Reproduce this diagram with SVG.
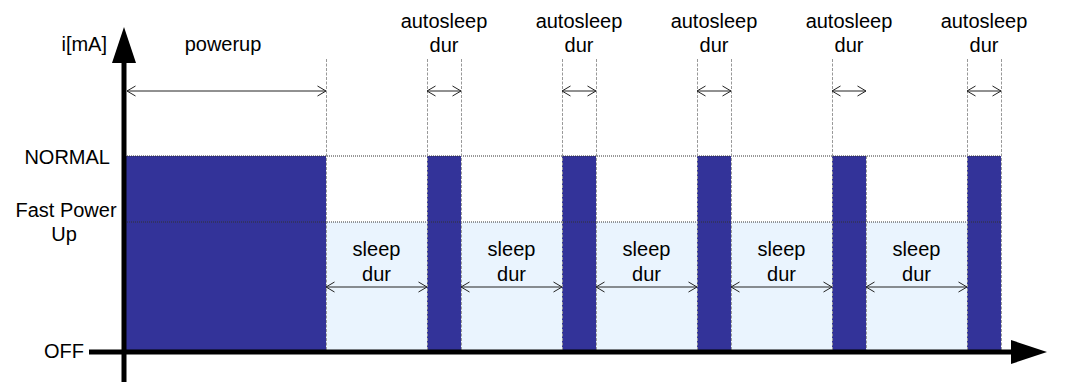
<svg xmlns="http://www.w3.org/2000/svg" width="1078" height="382" viewBox="0 0 1078 382">
<style>
text{font-family:"Liberation Sans",Arial,sans-serif;font-size:20px;fill:#000}
.c{text-anchor:middle}
.r{text-anchor:end}
.bar{fill:#333399}
.sleep{fill:#EAF4FE}
.vd{stroke:#999;stroke-width:1;stroke-dasharray:3 1.5;fill:none}
.hd{stroke:#333;stroke-width:1;stroke-dasharray:1 1;fill:none}
.dim{stroke:#222;stroke-width:1;fill:none;marker-start:url(#ch);marker-end:url(#ch)}
.axis{stroke:#000;stroke-width:5;fill:none}
</style>
<defs>
<marker id="ch" viewBox="0 0 10 12" refX="9.5" refY="6" markerWidth="10" markerHeight="12" markerUnits="userSpaceOnUse" orient="auto-start-reverse">
<path d="M1,1 L9.5,6 L1,11" fill="none" stroke="#222" stroke-width="1"/>
</marker>
</defs>
<g id="sleep-regions">
<rect class="sleep" x="326" y="222" width="101" height="128"/>
<rect class="sleep" x="461" y="222" width="101" height="128"/>
<rect class="sleep" x="596" y="222" width="101" height="128"/>
<rect class="sleep" x="731" y="222" width="101" height="128"/>
<rect class="sleep" x="866" y="222" width="101" height="128"/>
</g>
<g id="powerup-block"><rect class="bar" x="126" y="156" width="200" height="194"/></g>
<g id="normal-bars">
<rect class="bar" x="427" y="156" width="34" height="194"/>
<rect class="bar" x="562" y="156" width="34" height="194"/>
<rect class="bar" x="697" y="156" width="34" height="194"/>
<rect class="bar" x="832" y="156" width="34" height="194"/>
<rect class="bar" x="967" y="156" width="34" height="194"/>
</g>
<g id="guides">
<line class="hd" x1="127" y1="156" x2="1001" y2="156"/>
<line class="hd" x1="127" y1="222" x2="1001" y2="222"/>
<path class="vd" d="M326.5,59V350 M427.5,59V350 M461.5,59V350 M562.5,59V350 M596.5,59V350 M697.5,59V350 M731.5,59V350 M832.5,59V350 M866.5,156V350 M967.5,59V350 M1001.5,59V350"/>
</g>
<g id="connectors">
<line class="dim" x1="127" y1="91" x2="326" y2="91"/>
<line class="dim" x1="427" y1="91" x2="461" y2="91"/>
<line class="dim" x1="562" y1="91" x2="596" y2="91"/>
<line class="dim" x1="697" y1="91" x2="731" y2="91"/>
<line class="dim" x1="832" y1="91" x2="866" y2="91"/>
<line class="dim" x1="967" y1="91" x2="1001" y2="91"/>
<line class="dim" x1="326" y1="287" x2="427" y2="287"/>
<line class="dim" x1="461" y1="287" x2="562" y2="287"/>
<line class="dim" x1="596" y1="287" x2="697" y2="287"/>
<line class="dim" x1="731" y1="287" x2="832" y2="287"/>
<line class="dim" x1="866" y1="287" x2="967" y2="287"/>
</g>
<g id="axes">
<line class="axis" x1="124" y1="60" x2="124" y2="382"/>
<polygon points="124,27 112,63 136,63" fill="#000"/>
<line class="axis" x1="89" y1="352" x2="1013" y2="352"/>
<polygon points="1047,352 1011,340 1011,364" fill="#000"/>
</g>
<g id="labels">
<text class="r" x="107" y="51">i[mA]</text>
<text class="c" x="223" y="51">powerup</text>
<text class="r" x="110" y="164">NORMAL</text>
<text class="c" x="66" y="217">Fast Power</text>
<text class="c" x="64" y="241">Up</text>
<text class="r" x="84" y="358">OFF</text>
</g>
<g id="autosleep-labels">
<text class="c" x="444" y="28">autosleep</text><text class="c" x="444" y="52">dur</text>
<text class="c" x="579" y="28">autosleep</text><text class="c" x="579" y="52">dur</text>
<text class="c" x="714" y="28">autosleep</text><text class="c" x="714" y="52">dur</text>
<text class="c" x="849" y="28">autosleep</text><text class="c" x="849" y="52">dur</text>
<text class="c" x="984" y="28">autosleep</text><text class="c" x="984" y="52">dur</text>
</g>
<g id="sleep-labels">
<text class="c" x="376.5" y="256">sleep</text><text class="c" x="376.5" y="281">dur</text>
<text class="c" x="511.5" y="256">sleep</text><text class="c" x="511.5" y="281">dur</text>
<text class="c" x="646.5" y="256">sleep</text><text class="c" x="646.5" y="281">dur</text>
<text class="c" x="781.5" y="256">sleep</text><text class="c" x="781.5" y="281">dur</text>
<text class="c" x="916.5" y="256">sleep</text><text class="c" x="916.5" y="281">dur</text>
</g>
</svg>
